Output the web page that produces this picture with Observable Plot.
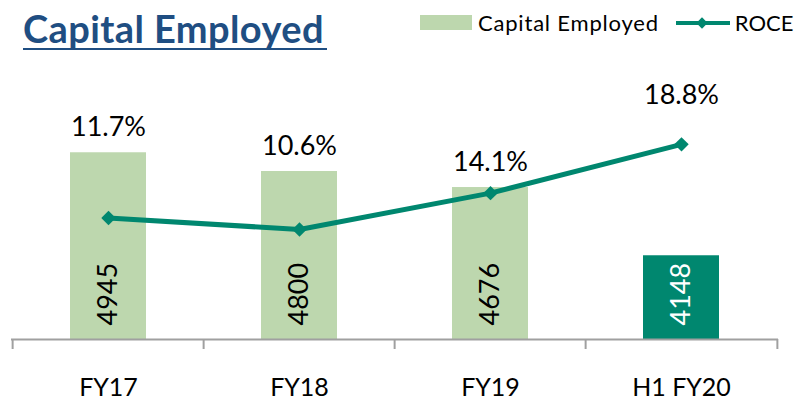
<!DOCTYPE html>
<html><head><meta charset="utf-8">
<script src="https://cdn.jsdelivr.net/npm/d3@7"></script>
<script src="https://cdn.jsdelivr.net/npm/@observablehq/plot@0.6"></script>
<style>
body{margin:0;background:#fff;font-family:Lato,"Open Sans",sans-serif;}
#wrap{width:803px;height:402px;position:relative;overflow:hidden;background:#fff}
#header{height:60px;position:relative}
#title{position:absolute;left:23px;top:8px;font-weight:bold;font-size:38px;letter-spacing:0.4px;color:#1F4E82;border-bottom:2.5px solid #1F4E82;line-height:40px;padding-right:3px}
#legend{position:absolute;left:420px;top:9px;display:flex;align-items:center;font-size:22px;color:#000;white-space:nowrap}
#legend .l1{letter-spacing:0.8px}
.sw{width:52px;height:15px;background:#BDD7AE;margin-right:6px}
#chart svg{display:block}
</style></head>
<body>
<div id="wrap">
  <div id="header">
    <div id="title">Capital Employed</div>
    <div id="legend">
      <div class="sw"></div><span class="l1">Capital Employed</span>
      <svg width="56" height="16" style="margin-left:16px;margin-right:4px">
        <line x1="1" y1="8" x2="55" y2="8" stroke="#00876F" stroke-width="4"/>
        <rect x="23" y="4" width="8" height="8" fill="#00876F" transform="rotate(45 27 8)"/>
      </svg><span>ROCE</span>
    </div>
  </div>
  <div id="chart"></div>
</div>
<script>
const categories = ["FY17", "FY18", "FY19", "H1 FY20"];
const capitalEmployed = [4945, 4800, 4676, 4148];
const roce = [11.7, 10.6, 14.1, 18.8];
const roceLabels = ["11.7%", "10.6%", "14.1%", "18.8%"];

const GREEN = "#BDD7AE", TEAL = "#00876F", GRAY = "#A0A0A0";
const W = 803, H = 342, mt = 0, mb = 63, ml = 11, mr = 25;
const yMin = 3500, yMax = 5659;
const pxPerUnit = (H - mt - mb) / (yMax - yMin);
const step = (W - ml - mr) / categories.length;
// ROCE shares the chart's vertical space: 0% sits on the baseline
const roceToY = r => yMin + r * (10.38 / pxPerUnit);

const rows = categories.map((c, i) => ({
  cat: c, cap: capitalEmployed[i], roce: roce[i], label: roceLabels[i], last: i === categories.length - 1
}));

const plot = Plot.plot({
  width: W, height: H,
  marginTop: mt, marginBottom: mb, marginLeft: ml, marginRight: mr,
  style: {fontFamily: "Lato, 'Open Sans', sans-serif", background: "white"},
  x: {domain: categories, paddingInner: 0.6, paddingOuter: 0.3, label: null},
  y: {domain: [yMin, yMax], axis: null},
  color: {type: "identity"},
  marks: [
    Plot.barY(rows, {x: "cat", y1: yMin, y2: "cap", fill: d => d.last ? TEAL : GREEN}),
    Plot.ruleY([yMin], {stroke: GRAY, strokeWidth: 2}),
    Plot.ruleX(categories, {x: d => d, y1: yMin, y2: yMin - 10 / pxPerUnit, dx: -step / 2, stroke: GRAY, strokeWidth: 2}),
    Plot.ruleX(categories.slice(-1), {x: d => d, y1: yMin, y2: yMin - 10 / pxPerUnit, dx: step / 2, stroke: GRAY, strokeWidth: 2}),
    Plot.axisX({tickSize: 0, tickPadding: 39, fontSize: 25, fill: "#000", label: null}),
    Plot.text(rows, {x: "cat", y: yMin, text: d => String(d.cap), rotate: -90, textAnchor: "start", dy: -14,
      fontSize: 27, fill: d => d.last ? "#fff" : "#000"}),
    Plot.line(rows, {x: "cat", y: d => roceToY(d.roce), stroke: TEAL, strokeWidth: 5}),
    Plot.dot(rows, {x: "cat", y: d => roceToY(d.roce), symbol: "diamond2", r: 6.5, fill: TEAL}),
    Plot.text(rows.filter(d => roceToY(d.roce) <= d.cap), {x: "cat", y: "cap", text: "label", dy: -25, fontSize: 27, fill: "#000"}),
    Plot.text(rows.filter(d => roceToY(d.roce) > d.cap), {x: "cat", y: d => roceToY(d.roce), text: "label", dy: -49, fontSize: 27, fill: "#000"})
  ]
});
document.getElementById("chart").appendChild(plot);
</script>
</body></html>
